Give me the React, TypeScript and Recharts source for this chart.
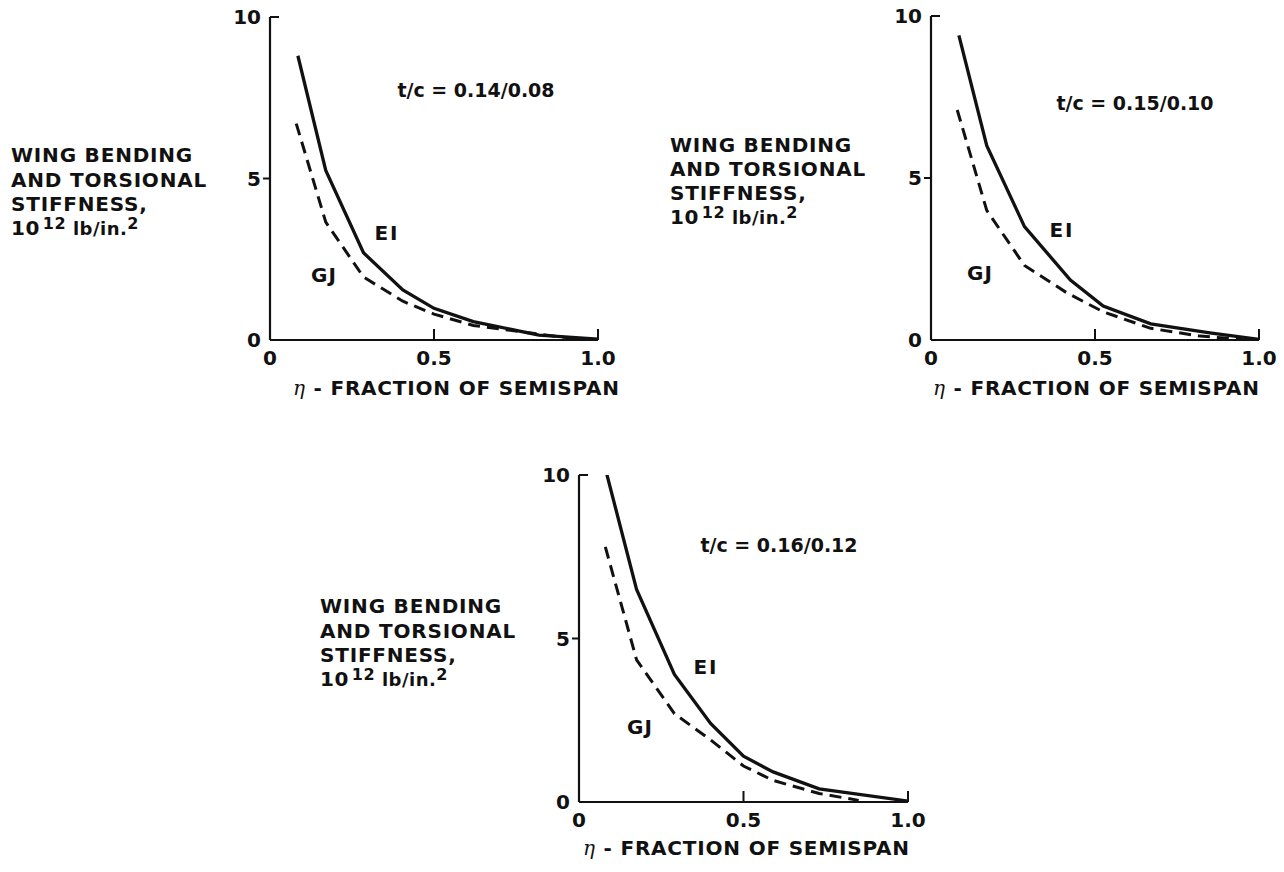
import React from 'react';
import { LineChart, Line, XAxis, YAxis } from 'recharts';

// axis ticks
const etaTicks = [0, 0.5, 1];
const stiffTicks = [0, 5, 10];

// t/c = 0.14/0.08
const eiEta1 = [0.085, 0.17, 0.285, 0.405, 0.5, 0.62, 0.82, 1.0];
const eiVal1 = [8.8, 5.25, 2.7, 1.55, 0.98, 0.57, 0.15, 0.03];
const gjEta1 = [0.08, 0.17, 0.285, 0.405, 0.5, 0.62, 0.77, 0.92];
const gjVal1 = [6.7, 3.65, 1.95, 1.2, 0.8, 0.45, 0.25, 0.05];

// t/c = 0.15/0.10
const eiEta2 = [0.085, 0.17, 0.285, 0.425, 0.525, 0.67, 0.85, 1.0];
const eiVal2 = [9.4, 6.0, 3.5, 1.85, 1.05, 0.5, 0.22, 0.02];
const gjEta2 = [0.08, 0.17, 0.285, 0.415, 0.525, 0.67, 0.82, 0.95];
const gjVal2 = [7.1, 4.0, 2.3, 1.45, 0.87, 0.36, 0.12, 0.02];

// t/c = 0.16/0.12
const eiEta3 = [0.08, 0.175, 0.29, 0.4, 0.5, 0.59, 0.73, 1.0];
const eiVal3 = [10.2, 6.5, 3.9, 2.4, 1.4, 0.92, 0.4, 0.03];
const gjEta3 = [0.08, 0.175, 0.29, 0.4, 0.5, 0.59, 0.73, 0.85];
const gjVal3 = [7.8, 4.35, 2.7, 1.9, 1.1, 0.66, 0.26, 0.05];

const ratios = ['t/c = 0.14/0.08', 't/c = 0.15/0.10', 't/c = 0.16/0.12'];
const yTitle = ['WING BENDING', 'AND TORSIONAL', 'STIFFNESS,'];
const xTitle = ' - FRACTION OF SEMISPAN';

const INK = '#111';
const FONT = '"DejaVu Sans", sans-serif';
const Y_W = 60;
const PAD_T = 12;
const PAD_R = 30;
const X_H = 40;

const zip = (xs: number[], ys: number[]) => xs.map((eta, i) => ({ eta, v: ys[i] }));

const YTick = (props: any) => {
  const { x, y, payload } = props;
  const v = payload.value;
  return (
    <g>
      {v === 5 && <line x1={x - 7} x2={x} y1={y} y2={y} stroke={INK} strokeWidth={2} />}
      {v === 10 && <line x1={x} x2={x + 9} y1={y} y2={y} stroke={INK} strokeWidth={2} />}
      <text x={x - 9} y={y + 7} textAnchor="end" fontFamily={FONT} fontWeight="bold" fontSize={20} fill={INK}>
        {v}
      </text>
    </g>
  );
};

const XTick = (props: any) => {
  const { x, y, payload } = props;
  const v = payload.value;
  return (
    <g>
      {v > 0 && <line x1={x} x2={x} y1={y - 11} y2={y} stroke={INK} strokeWidth={2} />}
      <text x={x} y={y + 25} textAnchor="middle" fontFamily={FONT} fontWeight="bold" fontSize={20} fill={INK}>
        {v === 0 ? '0' : v.toFixed(1)}
      </text>
    </g>
  );
};

type PanelProps = {
  left: number;
  top: number;
  w: number;
  h: number;
  ei: { eta: number; v: number }[];
  gj: { eta: number; v: number }[];
};

const Panel = ({ left, top, w, h, ei, gj }: PanelProps) => (
  <div style={{ position: 'absolute', left: left - Y_W, top: top - PAD_T }}>
    <LineChart
      width={Y_W + w + PAD_R}
      height={PAD_T + h + X_H}
      margin={{ top: PAD_T, right: PAD_R, left: 0, bottom: 0 }}
    >
      <XAxis
        dataKey="eta"
        type="number"
        domain={[0, 1]}
        ticks={etaTicks}
        interval={0}
        height={X_H}
        axisLine={{ stroke: INK, strokeWidth: 2.2 }}
        tickLine={false}
        tickSize={0}
        tickMargin={0}
        tick={<XTick />}
        allowDuplicatedCategory={false}
      />
      <YAxis
        type="number"
        domain={[0, 10]}
        ticks={stiffTicks}
        interval={0}
        width={Y_W}
        allowDataOverflow
        axisLine={{ stroke: INK, strokeWidth: 2.2 }}
        tickLine={false}
        tickSize={0}
        tickMargin={0}
        tick={<YTick />}
      />
      <Line data={ei} dataKey="v" type="linear" stroke={INK} strokeWidth={3.3} dot={false} activeDot={false} isAnimationActive={false} />
      <Line
        data={gj}
        dataKey="v"
        type="linear"
        stroke={INK}
        strokeWidth={3}
        strokeDasharray="12 7"
        dot={false}
        activeDot={false}
        isAnimationActive={false}
      />
    </LineChart>
  </div>
);

const boldText = { fontFamily: FONT, fontWeight: 'bold' as const, fill: INK };

const YTitle = ({ x, ys }: { x: number; ys: number[] }) => (
  <g>
    {yTitle.map((t, i) => (
      <text key={t} x={x} y={ys[i] + 7} fontSize={20} letterSpacing={0.8} {...boldText}>
        {t}
      </text>
    ))}
    <text x={x} y={ys[3] + 7} fontSize={20} letterSpacing={0.5} {...boldText}>
      10
      <tspan fontSize={16} dx={3} dy={-6}>12</tspan>
      <tspan fontSize={18} dy={6}> lb/in.</tspan>
      <tspan fontSize={16} dy={-6}>2</tspan>
    </text>
  </g>
);

const XTitle = ({ x, y }: { x: number; y: number }) => (
  <text x={x} y={y} fontSize={20} letterSpacing={0.8} {...boldText}>
    <tspan fontFamily='"DejaVu Serif", serif' fontStyle="italic" fontWeight="normal">η</tspan>
    {xTitle}
  </text>
);

const Notes = ({ ratio, rx, ry, ex, ey, gx, gy }: any) => (
  <g>
    <text x={rx} y={ry + 7} fontSize={19} textAnchor="middle" {...boldText}>{ratio}</text>
    <text x={ex} y={ey + 7} fontSize={20} textAnchor="middle" letterSpacing={2} {...boldText}>EI</text>
    <text x={gx} y={gy + 7} fontSize={20} textAnchor="middle" letterSpacing={1} {...boldText}>GJ</text>
  </g>
);

export default function App() {
  return (
    <div style={{ position: 'absolute', left: 0, top: 0, width: 1284, height: 872, background: '#fff' }}>
      <Panel left={270} top={17} w={328} h={323} ei={zip(eiEta1, eiVal1)} gj={zip(gjEta1, gjVal1)} />
      <Panel left={931} top={16} w={328} h={324} ei={zip(eiEta2, eiVal2)} gj={zip(gjEta2, gjVal2)} />
      <Panel left={579} top={475} w={329} h={327} ei={zip(eiEta3, eiVal3)} gj={zip(gjEta3, gjVal3)} />
      <svg width={1284} height={872} style={{ position: 'absolute', left: 0, top: 0, pointerEvents: 'none' }}>
        <YTitle x={11} ys={[155, 180, 204, 228]} />
        <YTitle x={670} ys={[145, 169, 193, 217]} />
        <YTitle x={320} ys={[606, 631, 655, 679]} />
        <XTitle x={293} y={395} />
        <XTitle x={933} y={395} />
        <XTitle x={583} y={855} />
        <Notes ratio={ratios[0]} rx={476} ry={90} ex={387} ey={233} gx={324} gy={275} />
        <Notes ratio={ratios[1]} rx={1135} ry={103} ex={1062} ey={230} gx={980} gy={273} />
        <Notes ratio={ratios[2]} rx={779} ry={545} ex={706} ey={667} gx={640} gy={727} />
      </svg>
    </div>
  );
}
